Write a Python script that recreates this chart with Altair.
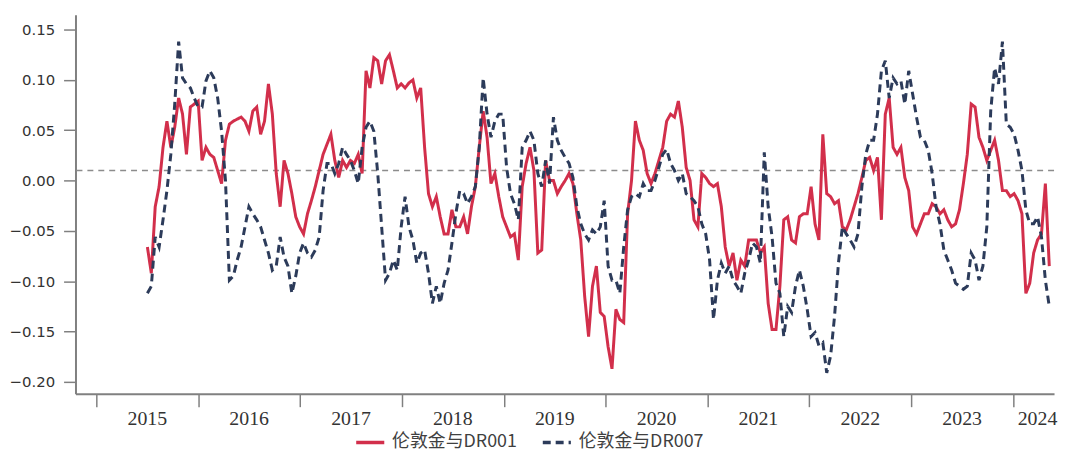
import altair as alt
import pandas as pd

# ---- data ----
dates = pd.date_range("2015-07-03", periods=232, freq="14D")

series_names = ["伦敦金与DR001", "伦敦金与DR007"]

dr001 = [
    -0.066, -0.092, -0.026, -0.006, 0.033, 0.059, 0.033, 0.053, 0.082, 0.066,
    0.026, 0.073, 0.076, 0.079, 0.020, 0.033, 0.026, 0.023, 0.010, -0.003,
    0.040, 0.056, 0.059, 0.061, 0.063, 0.059, 0.049, 0.069, 0.073, 0.046,
    0.059, 0.096, 0.066, 0.007, -0.026, 0.020, 0.007, -0.013, -0.036, -0.046,
    -0.053, -0.033, -0.020, -0.006, 0.010, 0.026, 0.036, 0.046, 0.020, 0.003,
    0.020, 0.013, 0.020, 0.017, 0.026, 0.007, 0.109, 0.092, 0.122, 0.119,
    0.096, 0.119, 0.125, 0.109, 0.092, 0.096, 0.092, 0.097, 0.100, 0.082,
    0.092, 0.033, -0.013, -0.026, -0.016, -0.036, -0.053, -0.053, -0.029, -0.046,
    -0.046, -0.036, -0.053, -0.026, -0.006, 0.033, 0.069, 0.043, -0.003, 0.007,
    -0.016, -0.036, -0.046, -0.056, -0.053, -0.079, -0.006, 0.017, 0.033, 0.010,
    -0.072, -0.069, 0.020, 0.000, 0.000, -0.013, -0.006, 0.000, 0.007, -0.003,
    -0.033, -0.059, -0.115, -0.155, -0.105, -0.085, -0.131, -0.135, -0.165, -0.187,
    -0.128, -0.138, -0.141, -0.033, 0.000, 0.059, 0.040, 0.030, 0.007, -0.003,
    0.007, 0.020, 0.033, 0.059, 0.066, 0.063, 0.079, 0.053, 0.013, 0.000,
    -0.039, -0.046, 0.007, 0.003, -0.003, -0.006, -0.003, -0.026, -0.066, -0.085,
    -0.072, -0.099, -0.079, -0.085, -0.059, -0.059, -0.059, -0.072, -0.066, -0.122,
    -0.148, -0.148, -0.105, -0.039, -0.036, -0.059, -0.062, -0.036, -0.033, -0.033,
    -0.006, -0.043, -0.059, 0.046, -0.013, -0.016, -0.023, -0.020, -0.046, -0.049,
    -0.039, -0.026, -0.013, 0.003, 0.020, 0.023, 0.010, 0.023, -0.039, 0.066,
    0.082, 0.033, 0.026, 0.033, 0.003, -0.010, -0.046, -0.053, -0.043, -0.033,
    -0.033, -0.023, -0.026, -0.033, -0.029, -0.039, -0.046, -0.043, -0.029, -0.003,
    0.026, 0.076, 0.073, 0.043, 0.033, 0.020, 0.030, 0.040, 0.020, -0.010,
    -0.010, -0.016, -0.013, -0.020, -0.033, -0.112, -0.102, -0.072, -0.059, -0.053,
    -0.003, -0.085,
]

dr007 = [
    -0.112, -0.105, -0.056, -0.066, -0.039, -0.010, 0.026, 0.076, 0.138, 0.102,
    0.096, 0.092, 0.082, 0.073, 0.073, 0.099, 0.109, 0.102, 0.082, 0.049,
    0.000, -0.099, -0.095, -0.079, -0.066, -0.046, -0.026, -0.033, -0.039, -0.046,
    -0.059, -0.072, -0.089, -0.085, -0.056, -0.076, -0.085, -0.112, -0.095, -0.072,
    -0.062, -0.072, -0.076, -0.069, -0.056, -0.010, 0.017, 0.017, 0.007, 0.017,
    0.033, 0.026, 0.020, 0.010, -0.003, 0.033, 0.053, 0.059, 0.049, 0.007,
    -0.046, -0.099, -0.092, -0.079, -0.089, -0.046, -0.016, -0.046, -0.059, -0.082,
    -0.072, -0.069, -0.092, -0.122, -0.105, -0.122, -0.102, -0.089, -0.062, -0.033,
    -0.010, -0.013, -0.023, -0.016, -0.006, 0.033, 0.102, 0.066, 0.043, 0.059,
    0.066, 0.066, 0.013, -0.013, -0.023, -0.039, 0.033, 0.040, 0.049, 0.040,
    0.007, -0.006, 0.020, -0.003, 0.063, 0.040, 0.030, 0.023, 0.017, 0.003,
    -0.026, -0.043, -0.053, -0.059, -0.049, -0.053, -0.046, -0.020, -0.085, -0.099,
    -0.099, -0.112, -0.066, -0.029, -0.016, -0.013, -0.016, -0.003, -0.010, -0.010,
    0.000, 0.013, 0.026, 0.031, 0.017, 0.010, 0.000, 0.007, -0.013, -0.016,
    -0.020, -0.026, -0.043, -0.053, -0.079, -0.138, -0.099, -0.082, -0.092, -0.085,
    -0.099, -0.105, -0.112, -0.092, -0.079, -0.062, -0.066, -0.082, 0.028, -0.026,
    -0.056, -0.102, -0.112, -0.155, -0.125, -0.131, -0.105, -0.089, -0.105, -0.128,
    -0.155, -0.151, -0.164, -0.161, -0.191, -0.174, -0.135, -0.082, -0.046, -0.053,
    -0.059, -0.066, -0.053, -0.006, 0.026, 0.040, 0.040, 0.066, 0.109, 0.119,
    0.082, 0.102, 0.096, 0.099, 0.076, 0.109, 0.086, 0.063, 0.043, 0.040,
    0.030, 0.007, -0.026, -0.043, -0.069, -0.079, -0.089, -0.102, -0.105, -0.108,
    -0.105, -0.072, -0.079, -0.099, -0.085, -0.046, 0.069, 0.112, 0.096, 0.138,
    0.056, 0.053, 0.046, 0.030, 0.010, -0.029, -0.043, -0.043, -0.036, -0.056,
    -0.099, -0.125,
]

tick_years = [2015, 2016, 2017, 2018, 2019, 2020, 2021, 2022, 2023, 2024]
year_labels = ["2015", "2016", "2017", "2018", "2019", "2020", "2021", "2022", "2023", "2024"]
year_label_pos = [2015.5, 2016.5, 2017.5, 2018.5, 2019.5, 2020.5, 2021.5, 2022.5, 2023.5, 2024.24]
y_ticks = [-0.20, -0.15, -0.10, -0.05, 0.00, 0.05, 0.10, 0.15]
ref_level = [0.01]

# ---- tables ----
frac_year = 2015 + (dates - pd.Timestamp("2015-01-01")).days / 365.25
df = pd.concat([
    pd.DataFrame({"t": frac_year, "v": dr001, "s": series_names[0], "k": 0}),
    pd.DataFrame({"t": frac_year, "v": dr007, "s": series_names[1], "k": 1}),
], ignore_index=True)
ref_df = pd.DataFrame({"v": ref_level})
lab_df = pd.DataFrame({"t": year_label_pos, "label": year_labels})

W, H = 986, 382
RED = "#D22F4B"
NAVY = "#2C3B5A"
AX = "#808080"

xscale = alt.Scale(domain=[2014.795, 2024.402], nice=False, zero=False)
yscale = alt.Scale(domain=[-0.2118, 0.1648], nice=False, zero=False)

leg = alt.Legend(
    orient="none", legendX=281, legendY=415, direction="horizontal", title=None,
    symbolType="stroke", symbolSize=800, symbolStrokeWidth=3.5,
    labelFont="Noto Sans CJK SC", labelFontSize=18, labelColor="#404040",
    labelOffset=6, columnPadding=18, padding=0,
)

lines = alt.Chart(df).mark_line(strokeWidth=3).encode(
    x=alt.X("t:Q", scale=xscale, axis=alt.Axis(
        values=tick_years, labels=False, title=None, grid=False,
        tickSize=13, tickColor=AX, tickWidth=1.5, domainColor=AX, domainWidth=2)),
    y=alt.Y("v:Q", scale=yscale, axis=alt.Axis(
        values=y_ticks, format=".2f", title=None, grid=False,
        tickSize=12, tickColor=AX, tickWidth=1.5, domainColor=AX, domainWidth=2,
        labelFont="DejaVu Sans", labelFontSize=15, labelColor="#333333", labelPadding=9)),
    color=alt.Color("s:N", scale=alt.Scale(domain=series_names, range=[RED, NAVY]), legend=leg),
    strokeDash=alt.StrokeDash("s:N", scale=alt.Scale(domain=series_names, range=[[1, 0], [8, 5]]), legend=leg),
    order="k:Q",
)

ref = alt.Chart(ref_df).mark_rule(color="#8c8c8c", strokeDash=[6, 5], strokeWidth=1.5).encode(
    y=alt.Y("v:Q", scale=yscale)
)

labels = alt.Chart(lab_df).mark_text(
    font="Liberation Serif", fontSize=20, color="#333333", baseline="middle"
).encode(
    x=alt.X("t:Q", scale=xscale),
    y=alt.value(H + 25),
    text="label:N",
)

chart = alt.layer(ref, lines, labels).properties(
    width=W, height=H,
    padding={"left": 68, "top": 5, "right": 5, "bottom": 62},
    autosize=alt.AutoSizeParams(type="none"),
).configure_view(stroke=None)

chart.save("out.html", embed_options={"renderer": "svg", "actions": False})
